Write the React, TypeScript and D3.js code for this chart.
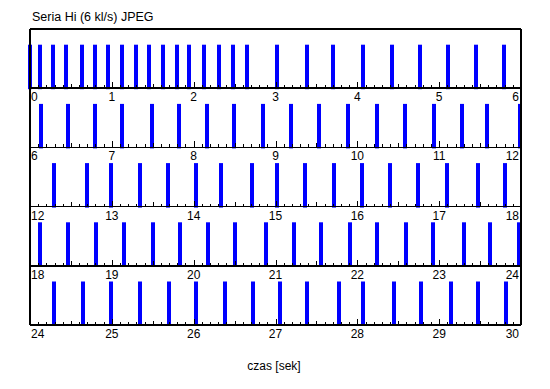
import React from "react";
import * as d3 from "d3";

// frame timestamps in seconds
const frameTimes = [
  0.0, 0.122, 0.281, 0.44, 0.635, 0.794, 0.953, 1.124, 1.295, 1.454, 1.625, 1.796, 1.943,
  2.126, 2.31, 2.48, 2.652, 3.018, 3.385, 3.703, 4.069, 4.424, 4.766, 5.108, 5.45, 5.793,
  6.134, 6.464, 6.794, 7.124, 7.491, 7.821, 8.163, 8.493, 8.847, 9.19, 9.532, 9.886,
  10.24, 10.583, 10.937, 11.279, 11.585, 11.988,
  12.297, 12.693, 12.986, 13.344, 13.683, 14.025, 14.338, 14.709, 15.022, 15.357, 15.711,
  16.054, 16.4, 16.738, 17.092, 17.471, 17.801,
  18.122, 18.461, 18.807, 19.149, 19.503, 19.833, 20.175, 20.505, 20.884, 21.226, 21.553,
  21.911, 22.241, 22.595, 22.925, 23.304, 23.621, 23.98,
  24.297, 24.644, 24.986, 25.344, 25.695, 26.025, 26.379, 26.725, 27.055, 27.381, 27.772,
  28.066, 28.445, 28.775, 29.141, 29.475, 29.813,
];

const rowStarts = [0, 6, 12, 18, 24];
const rowSpan = 6;
const title = "Seria Hi (6 kl/s) JPEG";
const xLabel = "czas [sek]";

export default function App() {
  const width = 550;
  const height = 389;
  const left = 30;
  const right = 521;
  const top = 29;
  const rowH = 59.2;
  const barH = 43.5;
  const font = "'Liberation Sans', Arial, sans-serif";

  const rowY = d3.scaleBand<number>().domain(d3.range(rowStarts.length)).range([top, top + rowH * rowStarts.length]);

  return (
    <svg width={width} height={height} style={{ position: "absolute", left: 0, top: 0, background: "#fff" }}>
      <text x={32} y={21} fontSize={12.5} fontFamily={font} fill="#000">{title}</text>

      {rowStarts.map((start, i) => {
        const x = d3.scaleLinear().domain([start, start + rowSpan]).range([left, right]);
        const axisY = (rowY(i) as number) + rowH;
        const ticks = d3.range(0, rowSpan * 10 + 1).map(k => start + k / 10);
        const bars = frameTimes.filter(t => Math.floor(t / rowSpan) === i);
        const labels = d3.range(start, start + rowSpan + 1);
        return (
          <g key={i}>
            {bars.map((t, j) => (
              <rect key={j} x={Math.round(x(t)) - 2} y={axisY - barH} width={4} height={barH + 1} fill="#0000ff" />
            ))}
            <line x1={left} x2={right} y1={axisY} y2={axisY} stroke="#000" strokeWidth={1.5} shapeRendering="crispEdges" />
            {ticks.map((t, k) => {
              const len = k % 10 === 0 ? 6 : k % 5 === 0 ? 4.5 : 3;
              return (
                <line key={k} x1={Math.round(x(t)) + 0.5} x2={Math.round(x(t)) + 0.5} y1={axisY} y2={axisY - len}
                  stroke="#000" strokeWidth={1} shapeRendering="crispEdges" />
              );
            })}
            {labels.map((v, k) => (
              <text key={k}
                x={k === 0 ? left + 1 : k === labels.length - 1 ? right - 2 : x(v)}
                y={axisY + 13}
                textAnchor={k === 0 ? "start" : k === labels.length - 1 ? "end" : "middle"}
                fontSize={12} fontFamily={font} fill="#000">{v}</text>
            ))}
          </g>
        );
      })}

      <line x1={left} x2={right} y1={top} y2={top} stroke="#000" strokeWidth={1.5} shapeRendering="crispEdges" />
      <line x1={left} x2={left} y1={top} y2={top + rowH * rowStarts.length} stroke="#000" strokeWidth={1.5} shapeRendering="crispEdges" />
      <line x1={right} x2={right} y1={top} y2={top + rowH * rowStarts.length} stroke="#000" strokeWidth={1.5} shapeRendering="crispEdges" />

      <text x={274} y={370} textAnchor="middle" fontSize={12} fontFamily={font} fill="#000">{xLabel}</text>
    </svg>
  );
}
